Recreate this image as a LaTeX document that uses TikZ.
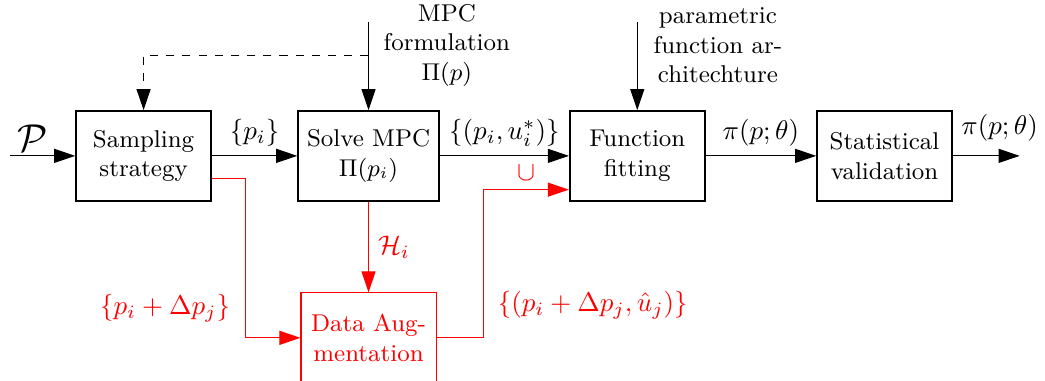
\documentclass[tikz,border=0pt]{standalone}
\usetikzlibrary{arrows.meta,positioning}
\begin{document}
\begin{tikzpicture}[
    bloque/.style={draw, semithick, minimum width=1.76cm, minimum height=1.17cm, align=center, font=\small},
    flecha/.style={-{Triangle[length=7.8pt,width=5.2pt]}},
    textosup/.style={align=center, font=\small}
]
    % Marco
    \useasboundingbox (0,0) rectangle (13.61,4.96);

    % Bloques
    \node[bloque] (muestreo) at (1.87,2.93) {Sampling\\strategy};
    \node[bloque] (mpc) at (4.80,2.93) {Solve MPC\\$\Pi(p_i)$};
    \node[bloque] (ajuste) at (8.30,2.93) {Function\\fitting};
    \node[bloque] (valid) at (11.52,2.93) {Statistical\\validation};
    \node[bloque, thin, red] (aumento) at (4.80,0.56) {Data Aug-\\mentation};

    % Entrada y salida
    \coordinate (entrada) at (0.13,2.93);
    \coordinate (salida) at (13.28,2.93);
    \draw[flecha] (entrada) -- node[pos=0.35, above, yshift=-2pt, font=\Large] (lblP) {$\mathcal{P}$} (muestreo);
    \draw[flecha] (valid) -- node[pos=0.7, above, yshift=2pt] (lblpi2) {$\pi(p;\theta)$} (salida);

    % Cadena principal
    \draw[flecha] (muestreo) -- node[above] (lblpi) {$\{p_i\}$} (mpc);
    \draw[flecha] (mpc) -- node[above] (lblpu) {$\{(p_i,u_i^*)\}$} (ajuste);
    \draw[flecha] (ajuste) -- node[above] (lblpt) {$\pi(p;\theta)$} (valid);

    % Entradas superiores
    \coordinate (mpcarriba) at (4.80,4.67);
    \coordinate (rama) at (4.80,4.24);
    \coordinate (ajarriba) at (8.30,4.67);
    \draw[flecha] (mpcarriba) -- (mpc);
    \draw[flecha, dashed] (rama) -| (muestreo);
    \draw[flecha] (ajarriba) -- (ajuste);
    \node[textosup] (formul) at (5.82,4.37) {MPC\\formulation\\$\Pi(p)$};
    \node[textosup] (arquit) at (9.35,4.37) {parametric\\function ar-\\chitechture};

    % Aumento de datos
    \draw[flecha, red] ([yshift=-0.30cm]muestreo.east) -- ++(0.44,0) |- (aumento);
    \draw[flecha, red] (mpc) -- node[right] (lblH) {$\mathcal{H}_i$} (aumento);
    \draw[flecha, red] (aumento.east) -- ++(0.61,0) |- node[pos=0.75, above] (lblcup) {$\cup$} ([yshift=-0.44cm]ajuste.west);
    \node[red] (lbldp) at (2.15,0.95) {$\{p_i+\Delta p_j\}$};
    \node[red] (lbldu) at (7.72,0.98) {$\{(p_i+\Delta p_j,\hat{u}_j)\}$};
\end{tikzpicture}
\end{document}
